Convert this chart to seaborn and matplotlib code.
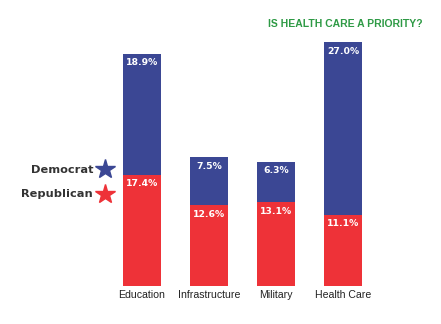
import matplotlib
matplotlib.use("Agg")
import matplotlib.pyplot as plt
import seaborn as sns
import pandas as pd

categories = ["Education", "Infrastructure", "Military", "Health Care"]
republican = [17.4, 12.6, 13.1, 11.1]
democrat = [18.9, 7.5, 6.3, 27.0]
title = "IS HEALTH CARE A PRIORITY?"

BLUE = "#3b4794"
RED = "#ee3238"

sns.set_theme(style="white")
plt.rcParams['font.family'] = ['DejaVu Sans']

df = pd.DataFrame({"cat": categories, "rep": republican, "dem": democrat})
df["total"] = df["rep"] + df["dem"]

fig = plt.figure(figsize=(4.41, 3.24), dpi=100)
ax = fig.add_axes([108.5 / 441, 38 / 324, 268 / 441, 256 / 324])

sns.barplot(data=df, x="cat", y="total", color=BLUE, width=0.567, ax=ax,
            saturation=1, linewidth=0, edgecolor="none")
sns.barplot(data=df, x="cat", y="rep", color=RED, width=0.567, ax=ax,
            saturation=1, linewidth=0, edgecolor="none")

ax.set_xlim(-0.5, 3.5)
ax.set_ylim(0, 40)
for s in ax.spines.values():
    s.set_visible(False)
ax.set_yticks([])
ax.set_xlabel("")
ax.set_ylabel("")
ax.tick_params(axis="x", length=0, pad=3)
for lbl in ax.get_xticklabels():
    lbl.set_fontfamily(["Liberation Sans", "DejaVu Sans"])
    lbl.set_fontsize(7.6)
    lbl.set_color("#222222")

for i, (r, d) in enumerate(zip(republican, democrat)):
    ax.annotate(f"{d:.1f}%", (i, r + d), xytext=(0, -6.5), textcoords="offset points",
                ha="center", va="center", color="white", fontsize=6.7, fontweight="bold")
    ax.annotate(f"{r:.1f}%", (i, r), xytext=(0, -6.5), textcoords="offset points",
                ha="center", va="center", color="white", fontsize=6.7, fontweight="bold")

# legend
fig.text(93 / 441, 1 - 170 / 324, "Democrat", ha="right", va="center",
         fontsize=8.2, fontweight="bold", color="#333333")
fig.text(93 / 441, 1 - 194 / 324, "Republican", ha="right", va="center",
         fontsize=8.2, fontweight="bold", color="#333333")
fig.lines.append(plt.Line2D([105 / 441], [1 - 169 / 324], marker="*", color=BLUE,
                            markersize=15, transform=fig.transFigure, linestyle="none"))
fig.lines.append(plt.Line2D([105 / 441], [1 - 194 / 324], marker="*", color=RED,
                            markersize=15, transform=fig.transFigure, linestyle="none"))

fig.text(345 / 441, 1 - 24 / 324, title, ha="center", va="center",
         fontsize=7.5, fontweight="bold", color="#2e9a45",
         family=["Liberation Sans Narrow", "Liberation Sans", "DejaVu Sans"])

fig.savefig("out.png", dpi=100)
